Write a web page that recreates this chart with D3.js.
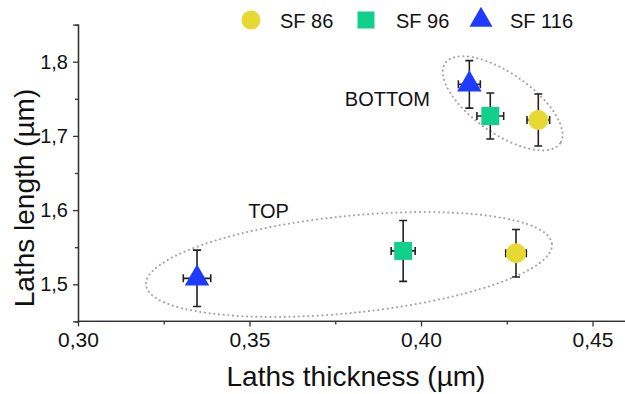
<!DOCTYPE html>
<html>
<head>
<meta charset="utf-8">
<script src="https://cdn.jsdelivr.net/npm/d3@7"></script>
<style>
  html, body { margin: 0; padding: 0; background: #fff; }
  svg { display: block; font-family: "Liberation Sans", Arial, sans-serif; }
</style>
</head>
<body>
<svg id="chart" width="625" height="394"></svg>
<script>
// Series (sample families)
const series = ["SF 86", "SF 96", "SF 116"];
const seriesColors = ["#e6d932", "#10d08c", "#1e3cff"];
const seriesSymbols = [d3.symbolCircle, d3.symbolSquare, d3.symbolTriangle];

// BOTTOM measurements: thickness (µm), length (µm) and their errors
const bottomThickness = [0.4342, 0.4202, 0.4141];
const bottomThicknessErr = [0.0033, 0.0039, 0.0032];
const bottomLength = [1.7214, 1.7268, 1.7695];
const bottomLengthErr = [0.035, 0.031, 0.032];

// TOP measurements
const topThickness = [0.4277, 0.3948, 0.3347];
const topThicknessErr = [0.0030, 0.0035, 0.0040];
const topLength = [1.5418, 1.5450, 1.5080];
const topLengthErr = [0.032, 0.041, 0.038];

// Axis ticks
const xTicks = [0.30, 0.35, 0.40, 0.45];
const xMinorTicks = [0.325, 0.375, 0.425];
const yTicks = [1.5, 1.6, 1.7, 1.8];
const yMinorTicks = [1.55, 1.65, 1.75];

// Group annotations
const groupNames = ["TOP", "BOTTOM"];

const svg = d3.select("#chart");
const x = d3.scaleLinear().domain([0.30, 0.46]).range([78, 626.8]);
const y = d3.scaleLinear().domain([1.45, 1.85]).range([321.4, 24.6]);

const locale = d3.formatLocale({ decimal: ",", thousands: ".", grouping: [3], currency: ["", ""] });
const fmtX = locale.format(".2f");
const fmtY = locale.format(".1f");

// Group outlines (dotted ellipses): centre in data units, radii in px, tilt in degrees
const groupOutlines = [
  { cx: 0.379, cy: 1.5267, rx: 204, ry: 48.5, tilt: -5.8 },
  { cx: 0.4238, cy: 1.7439, rx: 70, ry: 30, tilt: 35 }
];
const groupLabelAt = [
  { x: 0.3496, y: 1.589 },
  { x: 0.3778, y: 1.740 }
];

svg.append("g").selectAll("ellipse")
  .data(groupOutlines)
  .join("ellipse")
  .attr("transform", d => `translate(${x(d.cx)},${y(d.cy)}) rotate(${d.tilt})`)
  .attr("rx", d => d.rx)
  .attr("ry", d => d.ry)
  .attr("fill", "none")
  .attr("stroke", "#a0a0a0")
  .attr("stroke-width", 2)
  .attr("stroke-linecap", "round")
  .attr("stroke-dasharray", "0.1 4.6");

svg.append("g").selectAll("text")
  .data(groupNames)
  .join("text")
  .attr("x", (d, i) => x(groupLabelAt[i].x))
  .attr("y", (d, i) => y(groupLabelAt[i].y))
  .attr("font-size", 20)
  .attr("fill", "#111")
  .text(d => d);

// Axes
const axisColor = "#333";
const gx = svg.append("g").attr("transform", `translate(0,${y(1.45)})`);
gx.call(d3.axisBottom(x).tickValues(xTicks).tickFormat(fmtX).tickSize(5).tickPadding(6));
gx.append("g").call(d3.axisBottom(x).tickValues(xMinorTicks).tickFormat("").tickSize(3));
gx.selectAll(".domain").attr("stroke", axisColor).attr("stroke-width", 1.3);
gx.selectAll(".tick line").attr("stroke", axisColor).attr("stroke-width", 1.3);
gx.selectAll(".tick text").attr("font-size", 21).attr("fill", "#111")
  .attr("font-family", "Liberation Sans, Arial, sans-serif");

const gy = svg.append("g").attr("transform", `translate(${x(0.30)},0)`);
gy.call(d3.axisLeft(y).tickValues(yTicks).tickFormat(fmtY).tickSize(5).tickPadding(5));
gy.append("g").call(d3.axisLeft(y).tickValues(yMinorTicks).tickFormat("").tickSize(3));
gy.selectAll(".domain").attr("stroke", axisColor).attr("stroke-width", 1.3);
gy.selectAll(".tick line").attr("stroke", axisColor).attr("stroke-width", 1.3);
gy.selectAll(".tick text").attr("font-size", 20).attr("fill", "#111")
  .attr("font-family", "Liberation Sans, Arial, sans-serif");
gx.selectAll(".domain").attr("d", `M${x(0.30)},0H625`);

// Axis titles
svg.append("text")
  .attr("x", 356).attr("y", 386)
  .attr("text-anchor", "middle")
  .attr("font-size", 28).attr("fill", "#111")
  .text("Laths thickness (µm)");
svg.append("text")
  .attr("transform", `translate(34,198) rotate(-90)`)
  .attr("text-anchor", "middle")
  .attr("font-size", 28).attr("fill", "#111")
  .text("Laths length (µm)");

// Points with error bars
const points = [];
series.forEach((s, i) => {
  points.push({ i, tx: bottomThickness[i], ex: bottomThicknessErr[i], ly: bottomLength[i], ey: bottomLengthErr[i] });
  points.push({ i, tx: topThickness[i], ex: topThicknessErr[i], ly: topLength[i], ey: topLengthErr[i] });
});

const cap = 4;
const bars = svg.append("g").attr("stroke", "#222").attr("stroke-width", 1.6).attr("fill", "none");
points.forEach(p => {
  const px = x(p.tx), py = y(p.ly);
  const y0 = y(p.ly - p.ey), y1 = y(p.ly + p.ey);
  const x0 = x(p.tx - p.ex), x1 = x(p.tx + p.ex);
  bars.append("path").attr("d",
    `M${px},${y0}V${y1}M${px - cap},${y0}H${px + cap}M${px - cap},${y1}H${px + cap}` +
    `M${x0},${py}H${x1}M${x0},${py - cap}V${py + cap}M${x1},${py - cap}V${py + cap}`);
});

const markerSize = [314, 324, 260];
svg.append("g").selectAll("path")
  .data(points)
  .join("path")
  .attr("transform", d => `translate(${x(d.tx)},${y(d.ly)})`)
  .attr("d", d => d3.symbol(seriesSymbols[d.i], markerSize[d.i])())
  .attr("fill", d => seriesColors[d.i]);

// Legend
const legendX = [251, 366, 481];
const legendTextX = [280, 396, 510];
const legendY = 20;
const legendMarkerSize = [284, 289, 230];
const lg = svg.append("g");
series.forEach((s, i) => {
  lg.append("path")
    .attr("transform", `translate(${legendX[i]},${legendY})`)
    .attr("d", d3.symbol(seriesSymbols[i], legendMarkerSize[i])())
    .attr("fill", seriesColors[i]);
  lg.append("text")
    .attr("x", legendTextX[i]).attr("y", legendY + 8)
    .attr("font-size", 20).attr("fill", "#111")
    .text(s);
});
</script>
</body>
</html>
